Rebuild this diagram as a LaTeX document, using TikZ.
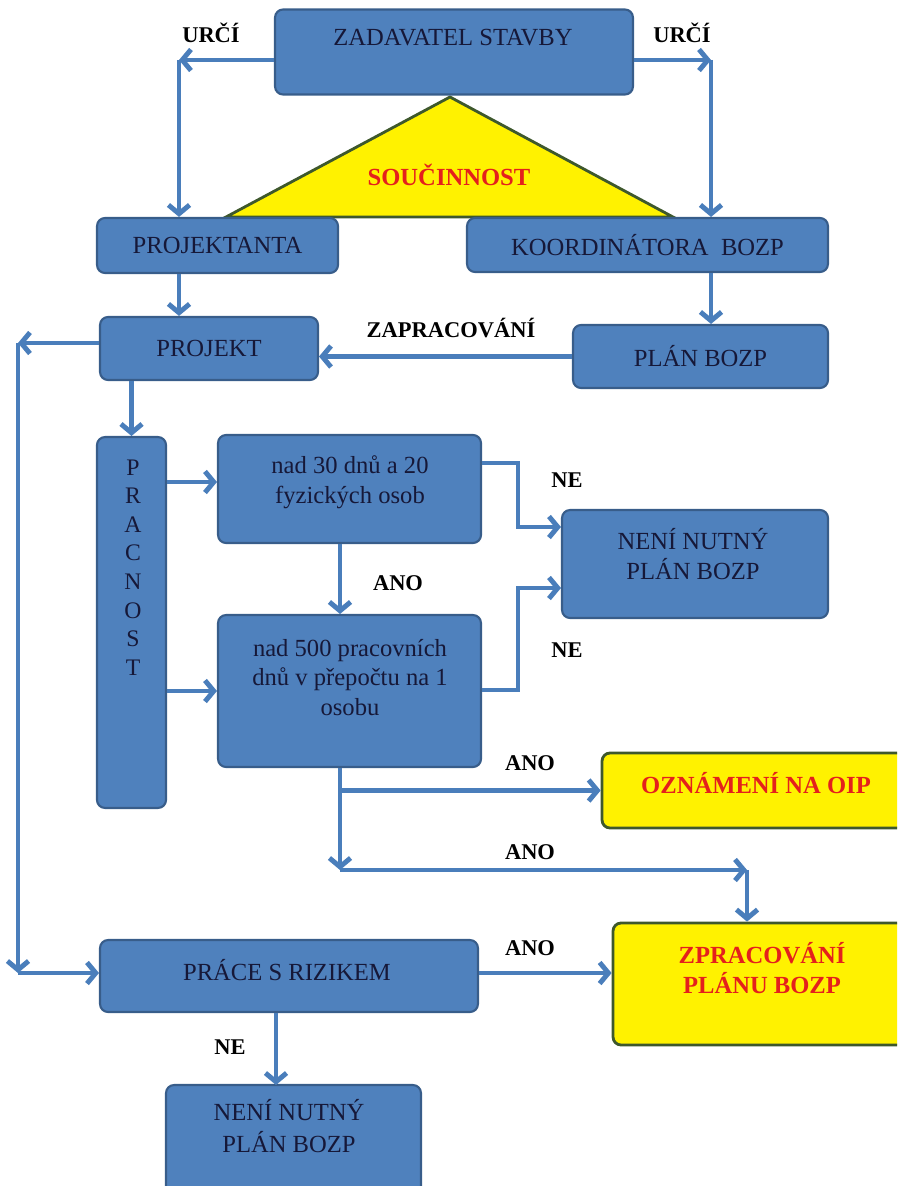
\documentclass[tikz,border=0pt]{standalone}
\usepackage{fontspec}
\setmainfont{Liberation Serif}
\usetikzlibrary{arrows.meta}
\definecolor{boxblue}{RGB}{79,129,189}
\definecolor{boxedge}{RGB}{56,93,138}
\definecolor{arrowblue}{RGB}{74,126,187}
\definecolor{boxtext}{RGB}{22,24,56}
\definecolor{warnred}{RGB}{228,32,28}
\definecolor{yellowedge}{RGB}{62,88,44}

\begin{document}
\begin{tikzpicture}[x=0.02cm, y=-0.02cm]
    \tikzstyle{rect} = [draw=boxedge, line width=1.2pt, fill=boxblue, rounded corners=0.16cm, text=boxtext, font=\fontsize{14}{17}\selectfont, align=center]
    \tikzstyle{yellowrect} = [draw=yellowedge, line width=1.6pt, fill=yellow, rounded corners=0.16cm]
    \tikzstyle{boxlabel} = [text=boxtext, font=\fontsize{14}{17}\selectfont, align=center]
    \tikzstyle{redlabel} = [text=warnred, font=\fontsize{14}{17.5}\selectfont\bfseries, align=center]
    \tikzstyle{answer} = [font=\fontsize{12.8}{15}\selectfont\bfseries]
    \tikzstyle{arr} = [draw=arrowblue, line width=2.8pt, -{Straight Barb[length=5pt,width=12pt]}]
    \path[use as bounding box] (0,0) rectangle (897,1186);
    \clip (0,0) rectangle (897,1186);

    % triangle between the designer and the coordinator
    \draw[draw=yellowedge, line width=1.6pt, fill=yellow] (450,97) -- (673,217) -- (226,217) -- cycle;
    \node (soucin) [redlabel] at (449,175) {SOUČINNOST};

    % upper part
    \node (zad) [rect, minimum width=7.16cm, minimum height=1.7cm] at (454,52) {};
    \node (zadtxt) [boxlabel] at (453,38) {ZADAVATEL STAVBY};
    \node (projektanta) [rect, minimum width=4.82cm, minimum height=1.1cm] at (217.5,245.5) {PROJEKTANTA};
    \node (koord) [rect, minimum width=7.22cm, minimum height=1.08cm] at (647.5,245) {KOORDINÁTORA\ \ BOZP};
    \node (projekt) [rect, minimum width=4.36cm, minimum height=1.26cm] at (209,348.5) {PROJEKT};
    \node (plan) [rect, minimum width=5.1cm, minimum height=1.26cm] at (700.5,356.5) {PLÁN BOZP};

    % middle part
    \node (pracnost) [rect, minimum width=1.38cm, minimum height=7.42cm] at (131.5,622.5) {};
    \node (pracnosttxt) [boxlabel, font=\fontsize{13.5}{16.3}\selectfont] at (133,567.5) {P\\R\\A\\C\\N\\O\\S\\T};
    \node (over30) [rect, minimum width=5.26cm, minimum height=2.16cm] at (349.5,489) {};
    \node (over30txt) [boxlabel] at (350,482) {nad 30 dnů a 20\\fyzických osob};
    \node (neni) [rect, minimum width=5.32cm, minimum height=2.16cm] at (695,564) {};
    \node (nenitxt) [boxlabel] at (693,554) {NENÍ NUTNÝ\\PLÁN BOZP};
    \node (over500) [rect, minimum width=5.26cm, minimum height=3.04cm] at (349.5,691) {};
    \node (over500txt) [boxlabel] at (350,677.5) {nad 500 pracovních\\dnů v přepočtu na 1\\osobu};
    \node (oip) [yellowrect, minimum width=6.4cm, minimum height=1.5cm] at (762,790.5) {};
    \node (oiptxt) [redlabel] at (756,783) {OZNÁMENÍ NA OIP};

    % lower part
    \node (plantask) [yellowrect, minimum width=6.2cm, minimum height=2.44cm] at (768,984) {};
    \node (plantasktxt) [redlabel] at (762,968) {ZPRACOVÁNÍ\\PLÁNU BOZP};
    \node (prace) [rect, minimum width=7.56cm, minimum height=1.44cm] at (289,976) {};
    \node (pracetxt) [boxlabel] at (287,970) {PRÁCE S RIZIKEM};
    \node (neni2) [rect, minimum width=5.1cm, minimum height=2.4cm] at (293.5,1145) {};
    \node (neni2txt) [boxlabel, font=\fontsize{14}{18}\selectfont] at (289,1126) {NENÍ NUTNÝ\\PLÁN BOZP};

    % answers
    \node (urcil) [answer] at (211,33) {URČÍ};
    \node (urcir) [answer] at (682,33) {URČÍ};
    \node (zapr) [answer] at (451,328) {ZAPRACOVÁNÍ};
    \node (ne1) [answer] at (567,480) {NE};
    \node (ne2) [answer] at (567,650) {NE};
    \node (ano1) [answer] at (398,583) {ANO};
    \node (ano2) [answer] at (530,763) {ANO};
    \node (ano3) [answer] at (530,852) {ANO};
    \node (ano4) [answer] at (530,948) {ANO};
    \node (ne3) [answer] at (230,1047) {NE};

    \coordinate (ul) at (179,60);
    \coordinate (ur) at (711,60);
    \coordinate (lt) at (18,343);
    \coordinate (lb) at (18,973);
    \coordinate (ne1a) at (518,463);
    \coordinate (ne1b) at (518,527);
    \coordinate (ne2a) at (518,690);
    \coordinate (ne2b) at (518,588);
    \coordinate (dn) at (340,870);
    \coordinate (zr) at (747,870);
    \coordinate (nd) at (276,1085);

    \draw[arr] (zad.west |- ul) -- (ul);
    \draw[arr] (ul) -- (ul |- projektanta.north);
    \draw[arr] (zad.east |- ur) -- (ur);
    \draw[arr] (ur) -- (ur |- koord.north);
    \draw[arr] (ul |- projektanta.south) -- (ul |- projekt.north);
    \draw[arr] (ur |- koord.south) -- (ur |- plan.north);
    \draw[arr] (plan.west) -- (plan.west -| projekt.east);
    \draw[arr] (projekt.west |- lt) -- (lt);
    \draw[arr] (lt) -- (lb);
    \draw[arr] (lb) -- (lb -| prace.west);
    \draw[arr] (pracnost.north |- projekt.south) -- (pracnost.north);
    \draw[arr] (pracnost.east |- over30txt) -- (over30.west |- over30txt);
    \draw[arr] (pracnost.east |- over500) -- (over500.west);
    \draw[arr] (over30.east |- ne1a) -- (ne1a) -- (ne1b) -- (ne1b -| neni.west);
    \draw[arr] (over500.east |- ne2a) -- (ne2a) -- (ne2b) -- (ne2b -| neni.west);
    \draw[arr] (over30.south -| dn) -- (over500.north -| dn);
    \draw[arr] (over500.south -| dn) -- (dn);
    \draw[arr] (oip.west -| dn) -- (oip.west);
    \draw[arr] (dn) -- (zr);
    \draw[arr] (zr) -- (zr |- plantask.north);
    \draw[arr] (prace.east |- lb) -- (lb -| plantask.west);
    \draw[arr] (prace.south -| nd) -- (nd);
\end{tikzpicture}
\end{document}
